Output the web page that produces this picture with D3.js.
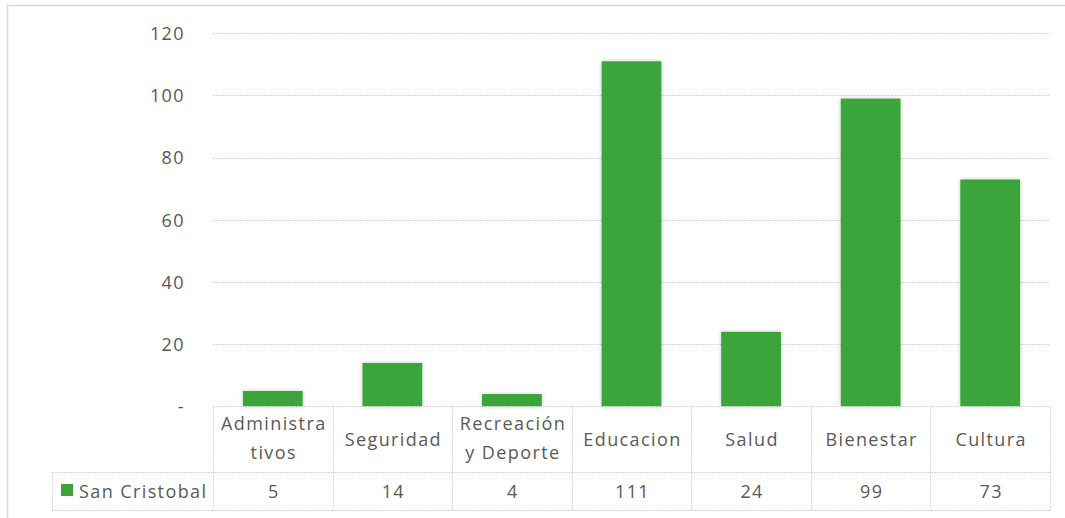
<!DOCTYPE html>
<html>
<head>
<meta charset="utf-8">
<script src="https://cdn.jsdelivr.net/npm/d3@7"></script>
<style>
  html, body { margin: 0; padding: 0; background: #fff; }
  svg { display: block; }
  text { font-family: "Open Sans", "Liberation Sans", sans-serif; fill: #595959; }
</style>
</head>
<body>
<svg id="chart" width="1065" height="518"></svg>
<script>
// Spending categories and counts for San Cristobal
const categories = ["Administrativos", "Seguridad", "Recreación y Deporte", "Educacion", "Salud", "Bienestar", "Cultura"];
const categoryLines = [["Administra", "tivos"], ["Seguridad"], ["Recreación", "y Deporte"], ["Educacion"], ["Salud"], ["Bienestar"], ["Cultura"]];
const seriesName = "San Cristobal";
const values = [5, 14, 4, 111, 24, 99, 73];
const yTicks = [0, 20, 40, 60, 80, 100, 120];
const yTickLabels = ["-", "20", "40", "60", "80", "100", "120"];

const svg = d3.select("#chart");
const green = "#3BA53A";
const lineColor = "#D6D6D6";
const fontSize = 18;
const spacing = "1.4px";

// plot area / data table geometry
const plotLeft = 213, plotRight = 1050;
const plotTop = 33.3, zeroY = 406.5;
const headerBottom = 472.5, tableBottom = 510.5;
const legendLeft = 52;

const x = d3.scaleBand().domain(categories).range([plotLeft, plotRight]).paddingInner(0.5).paddingOuter(0.25);
const y = d3.scaleLinear().domain([0, 120]).range([zeroY, plotTop]);
const step = x.step();
const colX = i => plotLeft + i * step;

// soft halo behind the bars
const defs = svg.append("defs");
const f = defs.append("filter").attr("id", "halo").attr("x", "-20%").attr("y", "-20%").attr("width", "140%").attr("height", "140%");
f.append("feDropShadow").attr("dx", 0).attr("dy", 0).attr("stdDeviation", 2.2)
  .attr("flood-color", "#000").attr("flood-opacity", 0.22);

// outer chart border
svg.append("rect").attr("x", 7.5).attr("y", 5.5).attr("width", 1070).attr("height", 530)
  .attr("fill", "none").attr("stroke", "#D9D9D9").attr("stroke-width", 1.5);

// horizontal gridlines
svg.append("g").selectAll("line").data(yTicks.filter(t => t > 0)).join("line")
  .attr("x1", plotLeft).attr("x2", plotRight)
  .attr("y1", d => Math.round(y(d)) + 0.5).attr("y2", d => Math.round(y(d)) + 0.5)
  .attr("stroke", lineColor).attr("stroke-dasharray", "2,1");

// y axis labels
const yAxis = d3.axisLeft(y).tickValues(yTicks).tickSize(0).tickPadding(0)
  .tickFormat((d, i) => yTickLabels[i]);
const gy = svg.append("g").attr("transform", "translate(185,0)").call(yAxis);
gy.select(".domain").remove();
gy.selectAll("text").attr("font-size", fontSize).attr("letter-spacing", spacing)
  .attr("fill", "#595959").attr("dy", "0.34em");
gy.attr("font-family", null).attr("font-size", null);

// bars
svg.append("g").selectAll("rect").data(values).join("rect")
  .attr("x", (d, i) => x(categories[i]))
  .attr("width", x.bandwidth())
  .attr("y", d => y(d))
  .attr("height", d => zeroY - y(d))
  .attr("fill", green)
  .attr("filter", "url(#halo)");

// data table grid
const grid = svg.append("g").attr("stroke", lineColor).attr("stroke-dasharray", "2,1").attr("fill", "none");
grid.append("line").attr("x1", plotLeft).attr("x2", plotRight).attr("y1", zeroY).attr("y2", zeroY);
grid.append("line").attr("x1", legendLeft).attr("x2", plotRight).attr("y1", headerBottom).attr("y2", headerBottom);
grid.append("line").attr("x1", legendLeft).attr("x2", plotRight).attr("y1", tableBottom).attr("y2", tableBottom);
grid.append("line").attr("x1", legendLeft + 0.5).attr("x2", legendLeft + 0.5).attr("y1", headerBottom).attr("y2", tableBottom);
grid.selectAll(".col").data(d3.range(categories.length + 1)).join("line").attr("class", "col")
  .attr("x1", i => Math.round(colX(i)) + 0.5).attr("x2", i => Math.round(colX(i)) + 0.5)
  .attr("y1", zeroY).attr("y2", tableBottom);

// category headers
const headers = svg.append("g").selectAll("text").data(categoryLines).join("text")
  .attr("text-anchor", "middle").attr("font-size", fontSize).attr("letter-spacing", spacing)
  .attr("x", (d, i) => x(categories[i]) + x.bandwidth() / 2 + 1);
headers.each(function(lines) {
  const t = d3.select(this);
  if (lines.length === 1) {
    t.append("tspan").attr("y", 445.5).text(lines[0]);
  } else {
    lines.forEach((l, k) => t.append("tspan").attr("x", t.attr("x")).attr("y", 430 + k * 29).text(l));
  }
});

// value row
svg.append("g").selectAll("text").data(values).join("text")
  .attr("text-anchor", "middle").attr("font-size", fontSize).attr("letter-spacing", spacing)
  .attr("x", (d, i) => x(categories[i]) + x.bandwidth() / 2 + 1)
  .attr("y", 497.5).text(d => d);

// legend key in the row header
svg.append("rect").attr("x", 61).attr("y", 484).attr("width", 12).attr("height", 12).attr("fill", green);
svg.append("text").attr("x", 79).attr("y", 497.5).attr("font-size", fontSize).attr("letter-spacing", spacing)
  .text(seriesName);
</script>
</body>
</html>
